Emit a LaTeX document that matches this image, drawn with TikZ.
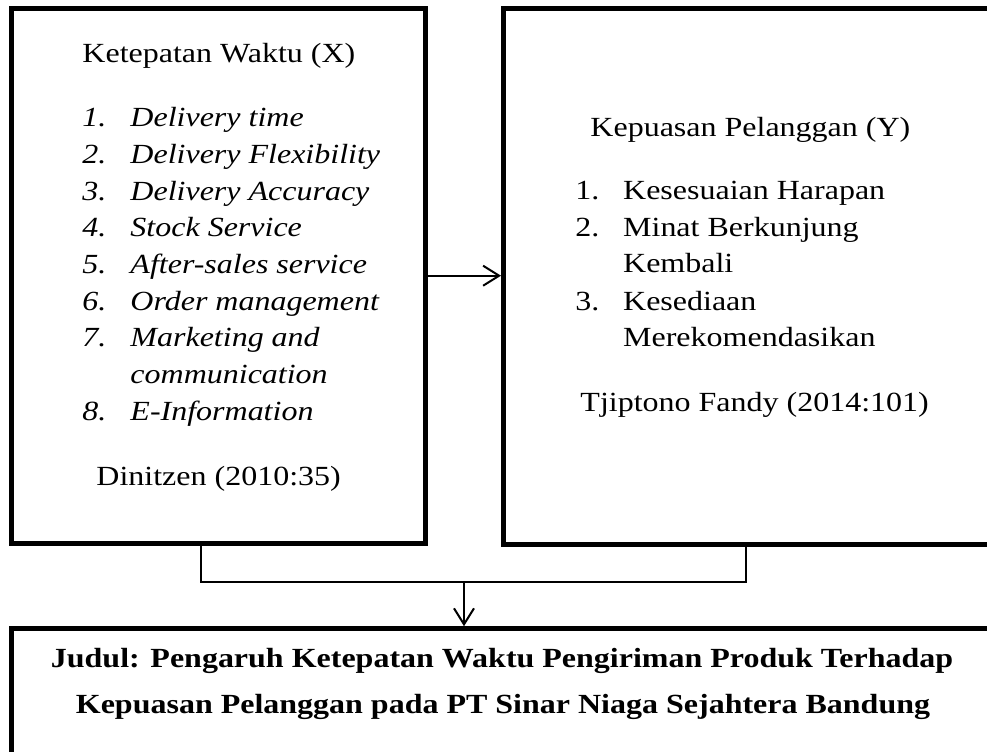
\documentclass[tikz,border=0pt]{standalone}
\usepackage{fontspec}
\setmainfont{Liberation Serif}
\usetikzlibrary{arrows.meta}

\newcommand{\bodyfont}{\fontsize{13.85}{16}\selectfont}

\tikzset{
  box/.style={draw, line width=2.4pt, inner sep=0pt},
  txt/.style={anchor=base west, inner sep=0pt, xscale=1.155, font=\bodyfont},
  itxt/.style={txt, font=\bodyfont\itshape},
  link/.style={line width=1pt}
}

\begin{document}
\begin{tikzpicture}[x=0.5pt,y=-0.5pt,>={Straight Barb[length=8pt,width=10pt]}]
  \useasboundingbox (0,0) rectangle (987,751);
  \clip (0,0) rectangle (987,751);

  % the three boxes
  \node[box, minimum width=206.7pt, minimum height=267.4pt] (lbox) at (218.4,275.7) {};
  \node[box, minimum width=246.7pt, minimum height=267.8pt] (rbox) at (750.1,276.3) {};
  \node[box, minimum width=492.8pt, minimum height=75.8pt] (judul) at (504.2,704.4) {};

  % variable X
  \node[txt] (xtitle) at (82,62.7) {Ketepatan Waktu (X)};
  \foreach \n/\item/\yy in {1/Delivery time/126.7, 2/Delivery Flexibility/163.3,
      3/Delivery Accuracy/200, 4/Stock Service/236.7, 5/After-sales service/273.3,
      6/Order management/310, 7/Marketing and/346.7, 8/E-Information/420} {
    \node[itxt] (xnum\n) at (82,\yy) {\n.};
    \node[itxt] (xitem\n) at (130,\yy) {\item};
  }
  \node[itxt] (xitem7b) at (130,383.3) {communication};
  \node[txt] (xsrc) at (96,485) {Dinitzen (2010:35)};

  % variable Y
  \node[txt] (ytitle) at (590,136.7) {Kepuasan Pelanggan (Y)};
  \foreach \n/\item/\yy in {1/Kesesuaian Harapan/199.3, 2/Minat Berkunjung/236,
      3/Kesediaan/310} {
    \node[txt] (ynum\n) at (575,\yy) {\n.};
    \node[txt] (yitem\n) at (622.7,\yy) {\item};
  }
  \node[txt] (yitem2b) at (622.7,272.7) {Kembali};
  \node[txt] (yitem3b) at (622.7,346.7) {Merekomendasikan};
  \node[txt] (ysrc) at (580,411) {Tjiptono Fandy (2014:101)};

  % title
  \node[txt, anchor=base, font=\bodyfont\bfseries] (judul1) at (502,667.7)
    {Judul: Pengaruh Ketepatan Waktu Pengiriman Produk Terhadap};
  \node[txt, anchor=base, font=\bodyfont\bfseries] (judul2) at (503,713.3)
    {Kepuasan Pelanggan pada PT Sinar Niaga Sejahtera Bandung};

  % connectors
  \coordinate (lleg) at (201,582);
  \coordinate (rleg) at (746,582);
  \coordinate (join) at (464,582);
  \draw[link,->] (lbox.east) -- (lbox.east -| rbox.west);
  \draw[link] (lbox.south -| lleg) -- (lleg) -- (rleg) -- (rbox.south -| rleg);
  \draw[link,->] (join) -- (join |- judul.north);
\end{tikzpicture}
\end{document}
